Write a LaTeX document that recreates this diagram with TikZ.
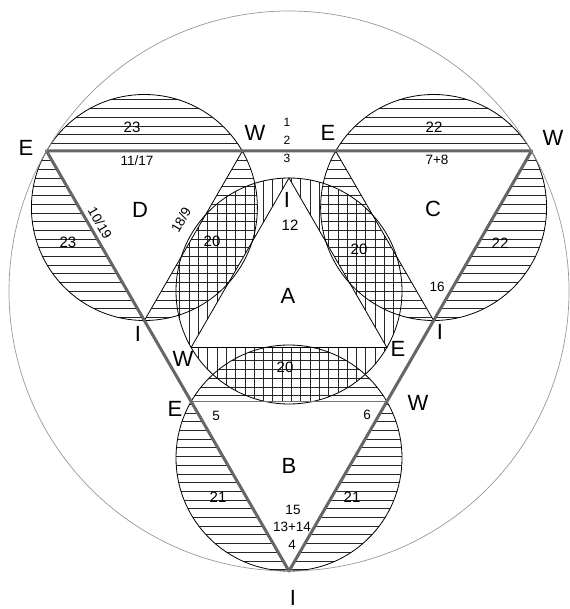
\documentclass[tikz,border=0pt]{standalone}
\usepackage{fontspec}
\setmainfont{Liberation Sans}
\begin{document}
\begin{tikzpicture}[x=1pt,y=-1pt,
  hatch/.style={line width=0.55pt, black!85},
  circ/.style={line width=0.8pt, black},
  thinside/.style={line width=0.8pt, black},
  midedge/.style={line width=1.6pt, black!55},
  bigedge/.style={line width=3pt, black!60, line join=round},
  outerc/.style={line width=0.7pt, black!40},
  big/.style={font=\fontsize{22}{22}\selectfont, inner sep=0pt},
  num/.style={font=\fontsize{15}{15}\selectfont, inner sep=0pt},
  sml/.style={font=\fontsize{13.5}{13.5}\selectfont, inner sep=0pt},
  tny/.style={font=\fontsize{12}{12}\selectfont, inner sep=0pt}]

\useasboundingbox (0,0) rectangle (569,609);
\fill[white] (0,0) rectangle (569,609);

% geometry
\coordinate (O) at (289,291);
\coordinate (E0) at (46.5,151);
\coordinate (W0) at (531.5,151);
\coordinate (I0) at (289,571);
% D
\coordinate (WD) at (242.4,151);
\coordinate (ID) at (144.4,320.5);
\coordinate (Dc) at (144.4,207.5);
% C
\coordinate (EC) at (335.6,151);
\coordinate (IC) at (433.6,320.5);
\coordinate (Cc) at (433.6,207.5);
% B
\coordinate (EB) at (191.1,401.5);
\coordinate (WB) at (386.9,401.5);
\coordinate (Bc) at (289,458);
% A
\coordinate (IA) at (289,178);
\coordinate (WA) at (191.1,347.5);
\coordinate (EA) at (386.9,347.5);

% horizontal hatching in circles B, C, D
\foreach \c in {Dc,Cc,Bc}{
  \begin{scope}
    \clip (\c) circle[radius=113];
    \foreach \k in {0,...,70} \draw[hatch] (0,4+\k*8.7) -- (569,4+\k*8.7);
  \end{scope}
}
% vertical hatching in circle A
\begin{scope}
  \clip (O) circle[radius=113];
  \foreach \k in {0,...,62} \draw[hatch] (3+\k*9.3,0) -- (3+\k*9.3,609);
\end{scope}

% white triangles
\fill[white] (E0) -- (WD) -- (ID) -- cycle;
\fill[white] (EC) -- (W0) -- (IC) -- cycle;
\fill[white] (EB) -- (WB) -- (I0) -- cycle;
\fill[white] (IA) -- (WA) -- (EA) -- cycle;

% circles
\draw[circ] (Dc) circle[radius=113];
\draw[circ] (Cc) circle[radius=113];
\draw[circ] (Bc) circle[radius=113];
\draw[circ] (O) circle[radius=113];

% inner sides
\draw[thinside] (IA) -- (WA) -- (EA) -- cycle;
\draw[thinside] (WD) -- (ID);
\draw[thinside] (EC) -- (IC);
\draw[midedge] (EB) -- (WB);

% big triangle
\draw[bigedge] (E0) -- (W0) -- (I0) -- cycle;

% outer circle
\draw[outerc] (O) circle[radius=280];

% labels
\node[big] (lE1) at (26,148) {E};
\node[big] (lW1) at (255,133) {W};
\node[big] (lE2) at (328,133) {E};
\node[big] (lW2) at (553,138) {W};
\node[tny] (l1) at (287,122) {1};
\node[tny] (l2) at (287,140) {2};
\node[tny] (l3) at (287,158) {3};

\node[num] (l23a) at (132,127) {23};
\node[sml] (l1117) at (137,161) {11/17};
\node[big] (lD) at (140,210) {D};
\node[sml, rotate=-60] (l1019) at (100,223) {10/19};
\node[sml, rotate=60] (l189) at (181,220) {18/9};
\node[num] (l23b) at (68,242) {23};
\node[num] (l20a) at (212,241) {20};
\node[big] (lID) at (138,334) {I};

\node[num] (l22a) at (434,127) {22};
\node[sml] (l78) at (437,160) {7+8};
\node[big] (lC) at (433,209) {C};
\node[num] (l20b) at (359,249) {20};
\node[num] (l22b) at (500,243) {22};
\node[sml] (l16) at (437,287) {16};
\node[big] (lIC) at (440,332) {I};

\node[big] (lIA) at (287,200) {I};
\node[num] (l12) at (290,225) {12};
\node[big] (lA) at (288,296) {A};
\node[big] (lWA) at (183,359) {W};
\node[big] (lEA) at (398,349) {E};
\node[num] (l20c) at (285,367) {20};

\node[big] (lEB) at (175,409) {E};
\node[big] (lWB) at (418,403) {W};
\node[sml] (l5) at (216,416) {5};
\node[sml] (l6) at (367,415) {6};
\node[big] (lB) at (289,466) {B};
\node[num] (l21a) at (218,497) {21};
\node[num] (l21b) at (352,497) {21};
\node[sml] (l15) at (293,510) {15};
\node[sml] (l1314) at (292,527) {13+14};
\node[sml] (l4) at (292,545) {4};
\node[big] (lIB) at (293,598) {I};
\end{tikzpicture}
\end{document}
